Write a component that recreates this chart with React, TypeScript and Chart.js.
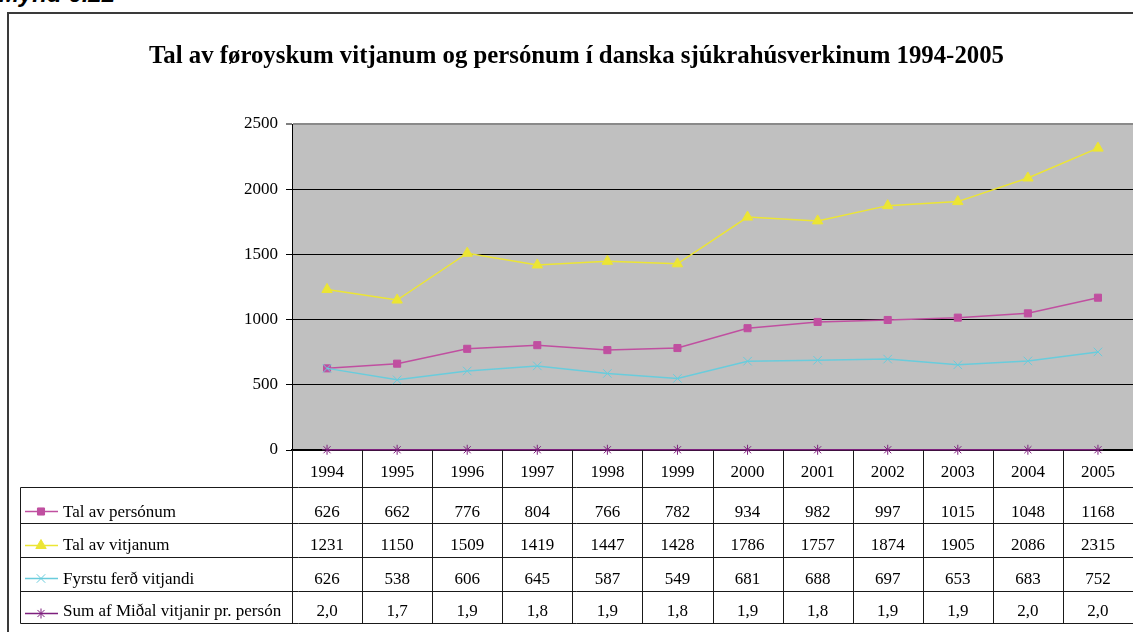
import React, { useEffect, useRef } from 'react';
import { Chart, registerables } from 'chart.js';
import { drawPoint } from 'chart.js/helpers';

Chart.register(...registerables);

// ---- data ----
const years = ['1994', '1995', '1996', '1997', '1998', '1999', '2000', '2001', '2002', '2003', '2004', '2005'];
const talPersonum = [626, 662, 776, 804, 766, 782, 934, 982, 997, 1015, 1048, 1168];
const talVitjanum = [1231, 1150, 1509, 1419, 1447, 1428, 1786, 1757, 1874, 1905, 2086, 2315];
const fyrstuFerd = [626, 538, 606, 645, 587, 549, 681, 688, 697, 653, 683, 752];
const midalVitjanir = [2.0, 1.7, 1.9, 1.8, 1.9, 1.8, 1.9, 1.8, 1.9, 1.9, 2.0, 2.0];
const seriesLabels = ['Tal av persónum', 'Tal av vitjanum', 'Fyrstu ferð vitjandi', 'Sum af Miðal vitjanir pr. persón'];
const yMin = 0;
const yMax = 2500;
const yStep = 500;
const chartTitle = 'Tal av føroyskum vitjanum og persónum í danska sjúkrahúsverkinum 1994-2005';
const figureLabel = 'Mynd 6.22';

// ---- styles ----
const FONT = '"Liberation Serif", "Times New Roman", serif';
const colors = ['#C04FA0', '#ECE534', '#69CCDC', '#7E1F7E'];
const pointStyles = ['rect', 'triangle', 'crossRot', 'star'];
const pointRadii = [5, 6, 6, 5];

const seriesValues = [talPersonum, talVitjanum, fyrstuFerd, midalVitjanir];
const formatters = [
  (v: number) => String(v),
  (v: number) => String(v),
  (v: number) => String(v),
  (v: number) => v.toFixed(1).replace('.', ','),
];

// table layout (offsets below chart-area bottom)
const lineOffsets = [37.5, 73.5, 107.5, 141.5, 173.5];
const baselineOffsets = [67, 100, 134, 166];
const keyOffsets = [61, 95, 128, 163];
const tableLeft = 20.5;

const tablePlugin = {
  id: 'excelTable',
  beforeDraw(chart: any) {
    const { ctx, chartArea: a } = chart;
    ctx.save();
    ctx.fillStyle = '#C0C0C0';
    ctx.fillRect(a.left, a.top, a.right - a.left, a.bottom - a.top);
    ctx.restore();
  },
  afterDraw(chart: any) {
    const { ctx, chartArea: a } = chart;
    const xs = chart.scales.x;
    const n = years.length;
    const colW = (a.right - a.left) / n;
    const b = Math.round(a.bottom);
    const lineYs = lineOffsets.map((o) => b + o);
    ctx.save();
    ctx.strokeStyle = '#1a1a1a';
    ctx.lineWidth = 1;
    ctx.beginPath();
    for (const y of lineYs) {
      ctx.moveTo(tableLeft, y);
      ctx.lineTo(a.right, y);
    }
    ctx.moveTo(tableLeft, lineYs[0]);
    ctx.lineTo(tableLeft, lineYs[lineYs.length - 1]);
    for (let i = 0; i <= n; i++) {
      const x = Math.round(xs.getPixelForValue(i) - colW / 2) + 0.5;
      ctx.moveTo(x, b);
      ctx.lineTo(x, lineYs[lineYs.length - 1]);
    }
    ctx.stroke();

    // values
    ctx.font = '17px ' + FONT;
    ctx.fillStyle = '#000';
    ctx.textAlign = 'center';
    ctx.textBaseline = 'alphabetic';
    seriesValues.forEach((vals, r) => {
      vals.forEach((v, i) => {
        ctx.fillText(formatters[r](v), xs.getPixelForValue(i), b + baselineOffsets[r]);
      });
    });

    // legend keys + labels
    seriesLabels.forEach((label, r) => {
      const ky = b + keyOffsets[r] + 0.5;
      ctx.strokeStyle = colors[r];
      ctx.fillStyle = colors[r];
      ctx.lineWidth = 1.5;
      ctx.beginPath();
      ctx.moveTo(25, ky);
      ctx.lineTo(58, ky);
      ctx.stroke();
      ctx.lineWidth = 1;
      drawPoint(ctx, { pointStyle: pointStyles[r], radius: pointRadii[r], rotation: 0, borderWidth: 1 } as any, 41, ky);
      ctx.fillStyle = '#000';
      ctx.textAlign = 'left';
      ctx.fillText(label, 63, b + baselineOffsets[r]);
    });
    ctx.restore();
  },
};

export default function App() {
  const ref = useRef<HTMLCanvasElement>(null);

  useEffect(() => {
    document.body.style.margin = '0';
    const canvas = ref.current;
    if (!canvas) return;
    const datasets = seriesLabels.map((label, i) => ({
      label,
      data: seriesValues[i],
      borderColor: colors[i],
      backgroundColor: colors[i],
      pointBackgroundColor: colors[i],
      pointBorderColor: colors[i],
      pointStyle: pointStyles[i],
      pointRadius: pointRadii[i],
      pointBorderWidth: 1,
      borderWidth: 1.5,
      tension: 0,
      clip: false,
      order: [2, 1, 0, 3][i],
    }));
    const chart = new Chart(canvas, {
      type: 'line',
      data: { labels: years, datasets },
      options: {
        responsive: false,
        animation: false,
        devicePixelRatio: 1,
        layout: { padding: { top: 124, left: 0, right: 5, bottom: 145 } },
        plugins: {
          legend: { display: false },
          tooltip: { enabled: false },
          title: { display: false },
        },
        scales: {
          x: {
            offset: true,
            grid: { display: false, drawTicks: false },
            border: { display: true, color: '#000', width: 2 },
            ticks: { color: '#000', font: { family: FONT, size: 17 }, padding: 12, maxRotation: 0, autoSkip: false },
            afterFit(s: any) {
              s.height = 37;
            },
          },
          y: {
            min: yMin,
            max: yMax,
            ticks: {
              stepSize: yStep,
              color: '#000',
              font: { family: FONT, size: 17 },
              padding: 8,
              callback: (v: any) => String(v),
            },
            grid: {
              color: (c: any) => (c.tick && c.tick.value === yMax ? '#8a8a8a' : '#000'),
              lineWidth: (c: any) => (c.tick && c.tick.value === yMax ? 2 : 1),
              tickLength: 6,
              tickColor: '#000',
              tickWidth: 1,
            },
            border: { color: '#000', width: 1 },
            afterFit(s: any) {
              s.width = 292;
            },
          },
        },
      },
      plugins: [tablePlugin],
    } as any);
    return () => chart.destroy();
  }, []);

  return (
    <div style={{ position: 'fixed', left: 0, top: 0, width: 1133, height: 632, overflow: 'hidden', background: '#fff' }}>
      <div
        style={{
          position: 'absolute',
          left: -1,
          top: -18.5,
          font: 'italic bold 24px "Liberation Sans", Arial, sans-serif',
          lineHeight: '24px',
          whiteSpace: 'nowrap',
          color: '#000',
        }}
      >
        {figureLabel}
      </div>
      <div
        style={{
          position: 'absolute',
          left: 7,
          top: 12,
          width: 1200,
          height: 700,
          border: '2px solid #3a3a3a',
          boxSizing: 'border-box',
        }}
      />
      <canvas ref={ref} width={1140} height={632} style={{ position: 'absolute', left: 0, top: 0, display: 'block' }} />
      <div
        style={{
          position: 'absolute',
          left: 0,
          width: 1153,
          top: 42,
          textAlign: 'center',
          font: 'bold 24.8px "Liberation Serif", "Times New Roman", serif',
          lineHeight: '26px',
          whiteSpace: 'nowrap',
          color: '#000',
        }}
      >
        {chartTitle}
      </div>
    </div>
  );
}
